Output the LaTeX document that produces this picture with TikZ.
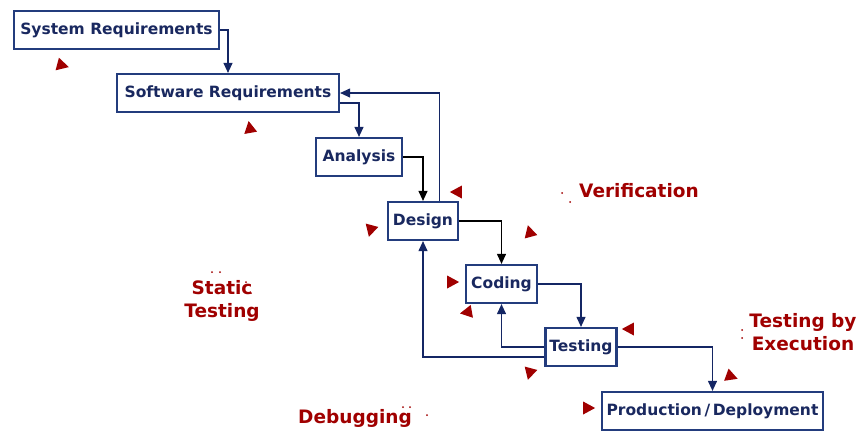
\documentclass[tikz,border=0pt]{standalone}
\usepackage{fontspec}
\setmainfont{DejaVu Sans}
\usetikzlibrary{arrows.meta,shapes.geometric}

\definecolor{boxblue}{RGB}{35,60,125}
\definecolor{textnavy}{RGB}{25,40,95}
\definecolor{linenavy}{RGB}{20,38,100}
\definecolor{darkred}{RGB}{160,0,0}

\begin{document}
\begin{tikzpicture}[x=1pt,y=-1pt,->,>={Triangle[length=10pt,width=9pt]},semithick]

    \tikzstyle{phase}=[rectangle,draw=boxblue,line width=2.2pt,fill=white,text=textnavy,
      font=\fontsize{15.5}{18}\selectfont\bfseries,minimum height=38pt,inner sep=4pt]
    \tikzstyle{flow}=[draw=linenavy,line width=1.1pt]
    \tikzstyle{blackflow}=[draw=black,line width=1.1pt]
    \tikzstyle{marker}=[isosceles triangle,isosceles triangle stretches,fill=darkred,
      minimum width=13pt,minimum height=12pt,inner sep=0pt]
    \tikzstyle{tag}=[text=darkred,font=\fontsize{18.5}{23}\selectfont\bfseries,align=center]

    \useasboundingbox (0,0) rectangle (862,432);

    \node[phase,minimum width=205pt] (sysreq)   at (116.5,30)  {System Requirements};
    \node[phase,minimum width=222pt] (swreq)    at (228,93)    {Software Requirements};
    \node[phase,minimum width=86pt]  (analysis) at (359,157)   {Analysis};
    \node[phase,minimum width=70pt]  (design)   at (423,221)   {Design};
    \node[phase,minimum width=71pt]  (coding)   at (501.5,284) {Coding};
    \node[phase,minimum width=70pt]  (testing)  at (581,347)   {Testing};
    \node[phase,minimum width=221pt] (deploy)   at (712.5,411) {Production\,/\,Deployment};

    \draw[flow] (sysreq.east) -| (swreq.north);
    \draw[flow] ([xshift=-20pt]design.north east) |- (swreq.east);
    \draw[flow] ([yshift=-10pt]swreq.east) -| (analysis.north);
    \draw[blackflow] (analysis.east) -| (design.north);
    \draw[blackflow] (design.east) -| (coding.north);
    \draw[flow] (coding.east) -| (testing.north);
    \draw[flow] (testing.west) -| (coding.south);
    \draw[flow] ([yshift=-10pt]testing.west) -| (design.south);
    \draw[flow] (testing.east) -| (deploy.north);

    % red markers
    \foreach \i/\x/\y/\a in {1/61/65/-15, 2/250/129/100, 3/458/192/180, 4/371/229/-105,
                             5/530/233/105, 6/451/282/0, 7/468/312/190, 8/630/329/180,
                             9/530/372/-105, 10/730/376/-20, 11/587/408/0}
      \node[marker,rotate=\a] (m\i) at (\x,\y) {};

    \node[tag] (verif) at (639,191) {Verification};
    \node[tag] (static) at (222,301) {Static\\Testing};
    \node[tag] (exec) at (803,332) {Testing by\\Execution};
    \node[tag] (debug) at (355,418) {Debugging};

    \foreach \x/\y in {562/193, 570/202, 212/272, 220/272, 246/282, 251/293,
                       742/330, 742/338, 403/407, 410/407, 427/415}
      \fill[darkred] (\x,\y) circle (1pt);

\end{tikzpicture}
\end{document}
